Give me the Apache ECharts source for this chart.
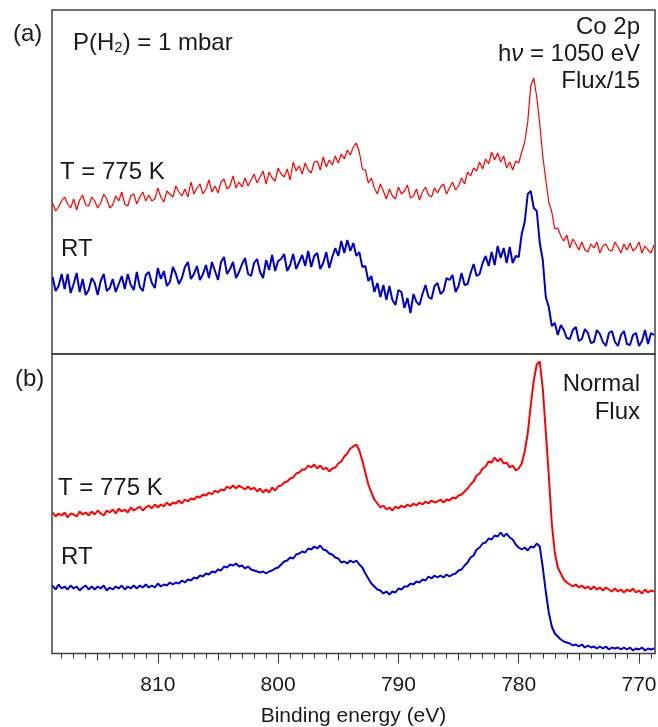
<!DOCTYPE html>
<html>
<head>
<meta charset="utf-8">
<title>Co 2p XPS</title>
<script src="https://cdn.jsdelivr.net/npm/echarts@6.0.0/dist/echarts.min.js"></script>
<style>
  html, body { margin: 0; padding: 0; background: #fff; }
  #chart { width: 658px; height: 727px; }
</style>
</head>
<body>
<div id="chart"></div>
<script>
// binding energy scan: 818.75 eV down to 768.75 eV, 0.25 eV step
const eStart = 818.75;
const eStep = 0.25;

// intensities (arb. units), panel (a) Flux/15
const redA = [
  151,143,147,153, 157,150,146,155, 144,154,159,149, 148,157,153,146,
  151,160,155,146, 149,158,153,162, 150,148,158,160, 150,157,162,153,
  159,153,155,166, 157,152,163,160, 157,168,162,158, 165,157,172,160,
  166,170,160,165, 174,162,168,161, 172,175,165,168, 178,166,172,167,
  176,168,174,180, 171,177,183,170, 182,176,173,186, 180,177,185,174,
  192,183,188,180, 191,184,181,192, 193,184,197,187, 194,189,198,191,
  200,195,204,199, 207,211,202,185, 184,171,176,166, 160,170,163,155,
  165,158,155,167, 160,163,169,156, 158,165,154,162, 167,159,157,166,
  161,167,170,160, 166,172,164,168, 176,170,182,178, 186,183,192,185,
  195,190,202,194, 201,192,198,186, 192,184,193,191, 202,212,232,268,
  276,257,230,198, 174,152,142,125, 126,118,113,119, 106,115,110,104,
  112,104,102,110, 106,112,101,108, 110,104,103,112, 107,101,110,104,
  111,103,106,112, 101,108,104,101, 109
];
const blueA = [
  77,63,68,80, 65,80,61,70, 81,62,75,59, 64,76,71,59,
  73,80,63,66, 75,62,70,78, 65,80,69,64, 82,67,63,79,
  82,71,66,86, 75,83,68,72, 87,80,70,76, 87,92,75,80,
  88,74,80,89, 76,92,83,74, 92,97,80,85, 92,76,82,90,
  96,80,78,91, 95,82,76,94, 84,99,83,93, 95,100,83,89,
  100,85,92,99, 88,103,87,98, 101,85,91,102, 86,97,106,98,
  113,101,114,103, 111,98,102,87, 88,73,78,62, 71,57,69,54,
  68,54,49,64, 62,46,56,41, 60,52,49,60, 69,57,55,68,
  71,60,63,76, 74,79,62,68, 81,69,70,81, 90,78,80,91,
  98,88,102,89, 108,96,106,91, 107,91,98,97, 120,132,160,163,
  146,143,111,94, 57,47,28,31, 19,29,24,16, 15,24,27,13,
  15,25,21,11, 12,24,20,12, 8,21,23,12, 8,19,23,10,
  9,19,21,8, 13,24,10,21, 19
];

// intensities (arb. units), panel (b) normal flux
const redB = [
  141,137,140,138, 141,136,140,139, 137,142,139,141, 138,142,139,143,
  140,138,143,141, 144,140,145,142, 144,141,146,143, 145,147,143,146,
  148,145,149,146, 149,147,151,148, 151,150,153,150, 154,152,155,154,
  157,156,159,158, 161,159,163,161, 164,163,167,165, 168,165,168,166,
  164,167,164,166, 162,165,161,164, 161,166,163,167, 168,171,172,175,
  176,180,181,184, 184,188,186,189, 185,188,184,186, 182,185,186,190,
  192,197,200,205, 207,209,203,193, 181,169,161,154, 150,146,148,144,
  146,143,147,145, 148,146,149,147, 150,148,151,149, 152,150,153,151,
  152,154,151,154, 153,156,155,158, 159,162,165,169, 172,178,180,185,
  187,192,191,196, 192,195,190,191, 186,188,183,185, 190,202,220,248,
  273,289,292,265, 222,178,130,101, 86,80,74,71, 69,67,69,66,
  68,65,67,64, 67,64,66,63, 66,64,62,65, 62,64,61,64,
  62,65,61,63, 60,64,61,63, 62
];
const blueB = [
  68,64,69,65, 67,64,68,65, 67,63,66,68, 64,67,64,67,
  65,68,63,66, 64,67,65,68, 64,67,65,68, 65,68,66,69,
  66,68,66,70, 67,69,68,71, 69,71,70,73, 71,74,73,76,
  75,78,77,80, 79,82,81,84, 83,87,86,89, 88,90,87,88,
  85,87,84,83, 82,81,82,80, 82,83,85,86, 89,92,93,96,
  95,99,100,102, 101,105,104,107, 105,108,104,103, 100,99,96,95,
  91,92,90,93, 91,93,89,86, 80,75,70,67, 64,63,60,62,
  59,62,61,65, 64,67,67,70, 69,72,71,74, 73,77,75,78,
  76,78,76,79, 77,79,80,83, 84,88,91,96, 98,104,106,110,
  111,115,114,118, 117,121,117,120, 116,114,109,106, 104,106,103,107,
  106,110,107,86, 62,41,27,20, 17,14,12,11, 10,8,9,7,
  9,6,8,6, 7,5,7,5, 7,4,6,5, 6,4,6,4,
  6,3,5,4, 6,3,5,4, 5
];

// x axis ticks
const majorTicks = [810, 800, 790, 780, 770];
const midTicks = [815, 805, 795, 785, 775];
const minorTicks = [];
for (let v = 769; v <= 818; v++) minorTicks.push(v);

const xMin = 768.67, xMax = 818.8;
const energies = redA.map((_, i) => eStart - eStep * i);
const pairs = (arr) => arr.map((v, i) => [energies[i], v]);

const RED = '#ff0000';
const BLUE = '#0000c8';
const TXT = '#1a1a1a';
const FONT = '"Liberation Sans", Arial, sans-serif';

const chart = echarts.init(document.getElementById('chart'), null, { renderer: 'canvas' });

function tickAxis(customValues, len, extra) {
  return Object.assign({
    type: 'value', gridIndex: 1, position: 'bottom', min: xMin, max: xMax, inverse: true,
    axisLine: { show: false },
    splitLine: { show: false },
    axisTick: { show: true, length: len, customValues: customValues, lineStyle: { color: '#333', width: 1 } },
    axisLabel: { show: false }
  }, extra || {});
}

function txt(text, x, y, align, rich) {
  return {
    type: 'text', x: x, y: y, silent: true,
    style: {
      text: text, fill: TXT, font: '24px ' + FONT, fontSize: 24, fontFamily: FONT,
      align: align || 'left', verticalAlign: 'middle', rich: rich
    }
  };
}

const option = {
  animation: false,
  backgroundColor: '#fff',
  grid: [
    { left: 52, top: 10, right: 3, height: 344, show: true, borderColor: '#404040', borderWidth: 1.5,
      outerBoundsMode: 'none', containLabel: false },
    { left: 52, top: 354, right: 3, height: 299.5, show: true, borderColor: '#404040', borderWidth: 1.5,
      outerBoundsMode: 'none', containLabel: false }
  ],
  xAxis: [
    { type: 'value', gridIndex: 0, min: xMin, max: xMax, inverse: true, show: false },
    tickAxis(majorTicks, 10, {
      axisLabel: {
        show: true, customValues: majorTicks, fontSize: 21, fontFamily: FONT, color: TXT, margin: 21
      },
      name: 'Binding energy (eV)',
      nameLocation: 'middle',
      nameGap: 52,
      nameTextStyle: { fontSize: 21, fontFamily: FONT, color: TXT }
    }),
    tickAxis(midTicks, 7),
    tickAxis(minorTicks, 5)
  ],
  yAxis: [
    { type: 'value', gridIndex: 0, min: 0, max: 344, show: false },
    { type: 'value', gridIndex: 1, min: 0, max: 299.5, show: false }
  ],
  series: [
    { type: 'line', xAxisIndex: 0, yAxisIndex: 0, data: pairs(redA), showSymbol: false,
      lineStyle: { color: RED, width: 1.2 } },
    { type: 'line', xAxisIndex: 0, yAxisIndex: 0, data: pairs(blueA), showSymbol: false,
      lineStyle: { color: BLUE, width: 2 } },
    { type: 'line', xAxisIndex: 1, yAxisIndex: 1, data: pairs(redB), showSymbol: false,
      lineStyle: { color: RED, width: 2 } },
    { type: 'line', xAxisIndex: 1, yAxisIndex: 1, data: pairs(blueB), showSymbol: false,
      lineStyle: { color: BLUE, width: 2 } }
  ],
  graphic: [
    txt('(a)', 13, 34),
    txt('{n|P(H}{s|2}{n|) = 1 mbar}', 73, 43, 'left', {
      n: { fontSize: 24, fontFamily: FONT, color: TXT },
      s: { fontSize: 15, fontFamily: FONT, color: TXT, verticalAlign: 'bottom', padding: [8, 0, 0, 0] }
    }),
    txt('Co 2p', 640, 27, 'right'),
    txt('{n|h}{i|ν}{n| = 1050 eV}', 640, 54, 'right', {
      n: { fontSize: 24, fontFamily: FONT, color: TXT },
      i: { fontSize: 24, fontFamily: FONT, fontStyle: 'italic', color: TXT }
    }),
    txt('Flux/15', 640, 81, 'right'),
    txt('T = 775 K', 60, 172),
    txt('RT', 61, 249),
    txt('(b)', 15, 379),
    txt('Normal', 640, 384, 'right'),
    txt('Flux', 640, 412, 'right'),
    txt('T = 775 K', 58, 488),
    txt('RT', 61, 557)
  ]
};

chart.setOption(option);
</script>
</body>
</html>
